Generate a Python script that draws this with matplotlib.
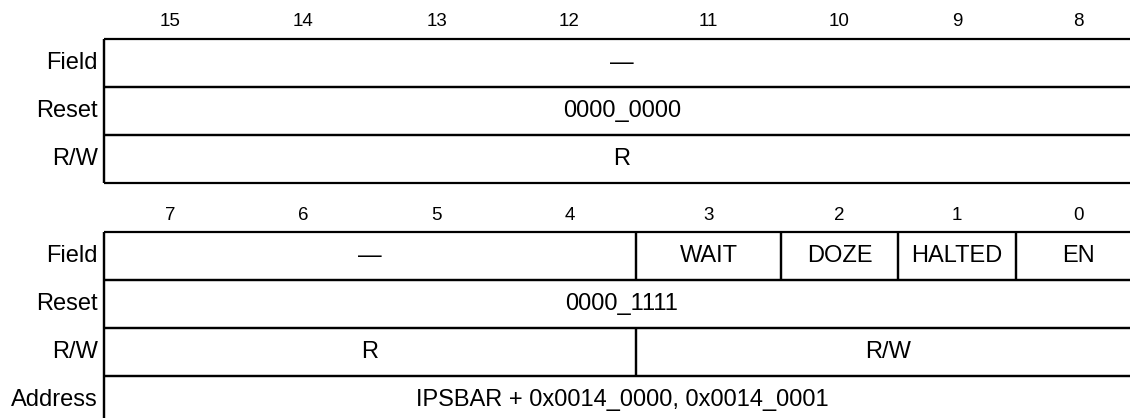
import matplotlib
matplotlib.use('Agg')
import matplotlib.pyplot as plt

plt.rcParams['font.family'] = ['Liberation Sans', 'DejaVu Sans']

# register content
row_names = ['Field', 'Reset', 'R/W']
upper_bits = [15, 14, 13, 12, 11, 10, 9, 8]
lower_bits = [7, 6, 5, 4, 3, 2, 1, 0]

# fields as (text, msb, lsb)
upper_fields = [('—', 15, 8)]
upper_reset = '0000_0000'
upper_rw = [('R', 15, 8)]

lower_fields = [('—', 7, 4), ('WAIT', 3, 3), ('DOZE', 2, 2), ('HALTED', 1, 1), ('EN', 0, 0)]
lower_reset = '0000_1111'
lower_rw = [('R', 7, 4), ('R/W', 3, 0)]
address = 'IPSBAR + 0x0014_0000, 0x0014_0001'

# layout (pixels)
W, H = 1130, 418
col_edges = [104, 237, 370, 503, 636, 781, 898, 1016, 1140]
row_h = 48
lw = 1.6
fs = 17
fs_bit = 13.5

fig = plt.figure(figsize=(W / 100, H / 100), dpi=100)
ax = fig.add_axes([0, 0, 1, 1])
ax.set_xlim(0, W)
ax.set_ylim(H, 0)
ax.axis('off')


def xspan(bits, msb, lsb):
    i0 = bits.index(msb)
    i1 = bits.index(lsb)
    return col_edges[i0], col_edges[i1 + 1]


def draw_row(bits, y, cells):
    # cells: list of (text, msb, lsb)
    for text, msb, lsb in cells:
        x0, x1 = xspan(bits, msb, lsb)
        ax.text((x0 + x1) / 2, y + row_h / 2, text, ha='center', va='center',
                fontsize=fs, color='black')
        ax.vlines([x0, x1], y, y + row_h, color='black', lw=lw)
    ax.hlines([y, y + row_h], col_edges[0], col_edges[-1], color='black', lw=lw)


def draw_register(bits, top, fields, reset, rw, extra=None):
    for i, b in enumerate(bits):
        ax.text((col_edges[i] + col_edges[i + 1]) / 2, top - 17, str(b),
                ha='center', va='center', fontsize=fs_bit)
    rows = [fields, [(reset, bits[0], bits[-1])], rw]
    names = list(row_names)
    if extra is not None:
        rows.append([(extra, bits[0], bits[-1])])
        names.append('Address')
    for k, (name, cells) in enumerate(zip(names, rows)):
        y = top + k * row_h
        draw_row(bits, y, cells)
        ax.text(col_edges[0] - 6, y + row_h / 2, name, ha='right', va='center',
                fontsize=fs)
    ax.vlines(col_edges[0], top, top + len(rows) * row_h, color='black', lw=lw)


draw_register(upper_bits, 39, upper_fields, upper_reset, upper_rw)
draw_register(lower_bits, 232, lower_fields, lower_reset, lower_rw, extra=address)

fig.savefig('out.png', dpi=100, facecolor='white')
